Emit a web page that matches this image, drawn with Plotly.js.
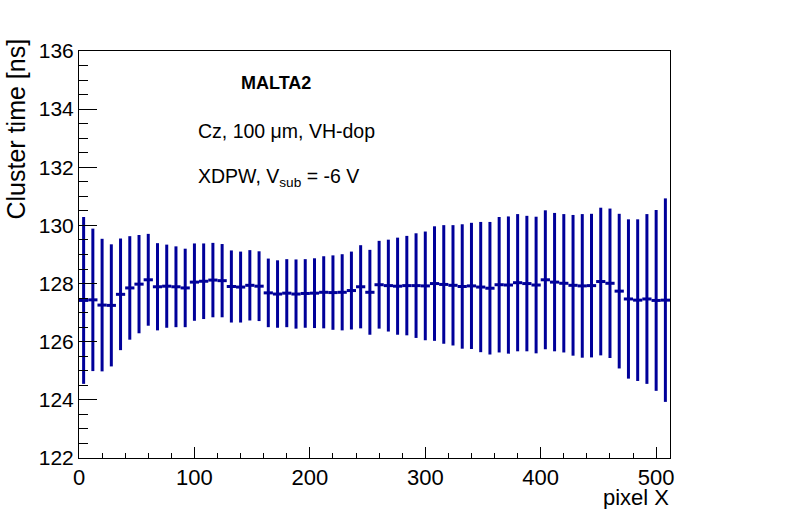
<!DOCTYPE html>
<html>
<head>
<meta charset="utf-8">
<script src="https://cdn.plot.ly/plotly-3.0.1.min.js"></script>
<style>html,body{margin:0;padding:0;background:#fff;}#chart{width:788px;height:509px;}</style>
</head>
<body>
<div id="chart"></div>
<script>
var pixelX = [4,12,20,28,36,44,52,60,68,76,84,92,100,108,116,124,132,140,148,156,164,172,180,188,196,204,212,220,228,236,244,252,260,268,276,284,292,300,308,316,324,332,340,348,356,364,372,380,388,396,404,412,420,428,436,444,452,460,468,476,484,492,500,508];
var halfBin = [4,4,4,4,4,4,4,4,4,4,4,4,4,4,4,4,4,4,4,4,4,4,4,4,4,4,4,4,4,4,4,4,4,4,4,4,4,4,4,4,4,4,4,4,4,4,4,4,4,4,4,4,4,4,4,4,4,4,4,4,4,4,4,4];
var clusterTime = [127.42,127.44,127.26,127.25,127.63,127.85,127.98,128.13,127.89,127.91,127.89,127.85,128.05,128.08,128.12,128.10,127.90,127.88,127.94,127.91,127.68,127.64,127.67,127.64,127.66,127.67,127.70,127.69,127.70,127.76,127.89,127.70,127.96,127.93,127.91,127.93,127.93,127.92,128.00,127.97,127.94,127.90,127.92,127.88,127.84,127.96,127.95,128.03,128.00,127.95,128.13,128.05,128.01,127.94,127.92,127.93,128.07,128.01,127.74,127.47,127.43,127.47,127.42,127.43];
var timeErr = [2.87,2.45,2.28,2.10,1.92,1.78,1.69,1.58,1.50,1.43,1.39,1.35,1.33,1.30,1.28,1.26,1.24,1.22,1.21,1.20,1.18,1.16,1.17,1.19,1.18,1.20,1.24,1.28,1.31,1.34,1.43,1.46,1.51,1.58,1.67,1.71,1.80,1.87,1.97,2.04,2.07,2.14,2.17,2.24,2.28,2.33,2.36,2.36,2.33,2.35,2.39,2.38,2.38,2.42,2.47,2.47,2.54,2.57,2.66,2.74,2.78,2.92,3.11,3.50];
var yTicks = [122,124,126,128,130,132,134,136];
var xTicks = [0,100,200,300,400,500];

var col = '#000099';
var trace = {
  x: pixelX, y: clusterTime, type: 'scatter', mode: 'markers',
  marker: {color: col, size: 2},
  error_y: {type: 'data', array: timeErr, visible: true, color: col, thickness: 3, width: 0},
  error_x: {type: 'data', array: halfBin, visible: true, color: col, thickness: 3, width: 0},
  showlegend: false, hoverinfo: 'x+y'
};

var font = 'Liberation Sans, Arial, Helvetica, sans-serif';
var layout = {
  width: 788, height: 509,
  margin: {l: 79, r: 118, t: 51, b: 51, pad: 0},
  paper_bgcolor: '#fff', plot_bgcolor: '#fff',
  font: {family: font, color: '#000'},
  xaxis: {
    range: [0, 512], showgrid: false, zeroline: false,
    showline: true, linecolor: '#000', linewidth: 1, mirror: true,
    ticks: 'inside', ticklen: 11, tickwidth: 1, tickcolor: '#000',
    tickvals: xTicks, ticktext: xTicks.map(String),
    tickfont: {size: 22, family: font},
    minor: {dtick: 20, ticks: 'inside', ticklen: 5, tickcolor: '#000', tickwidth: 1, showgrid: false}
  },
  yaxis: {
    range: [122, 136], showgrid: false, zeroline: false,
    showline: true, linecolor: '#000', linewidth: 1, mirror: true,
    ticks: 'inside', ticklen: 18, tickwidth: 1, tickcolor: '#000',
    tickvals: yTicks, ticktext: yTicks.map(String),
    tickfont: {size: 21, family: font},
    minor: {dtick: 0.5, ticks: 'inside', ticklen: 9, tickcolor: '#000', tickwidth: 1, showgrid: false}
  },
  annotations: [
    {text: 'Cluster time [ns]', xref: 'paper', yref: 'paper', x: -79/591, y: (457.7-37)/406.7, xanchor: 'left', yanchor: 'top', textangle: -90, showarrow: false, font: {size: 25, family: font}},
    {text: 'pixel X', xref: 'paper', yref: 'paper', x: 1.0, y: (457.7-497)/406.7, xanchor: 'right', yanchor: 'middle', showarrow: false, borderpad: 0, font: {size: 22, family: font}},
    {text: '<b>MALTA2</b>', xref: 'paper', yref: 'paper', x: (276-79)/591, y: (457.7-83)/406.7, xanchor: 'center', yanchor: 'middle', showarrow: false, font: {size: 18, family: font}},
    {text: 'Cz, 100 μm, VH-dop', xref: 'paper', yref: 'paper', x: (196-79)/591, y: (457.7-131)/406.7, xanchor: 'left', yanchor: 'middle', showarrow: false, font: {size: 19.5, family: font}},
    {text: 'XDPW, V<sub>sub</sub> = -6 V', xref: 'paper', yref: 'paper', x: (196-79)/591, y: (457.7-177)/406.7, xanchor: 'left', yanchor: 'middle', showarrow: false, font: {size: 19.5, family: font}}
  ]
};

Plotly.newPlot('chart', [trace], layout, {displayModeBar: false, staticPlot: true});
</script>
</body>
</html>
